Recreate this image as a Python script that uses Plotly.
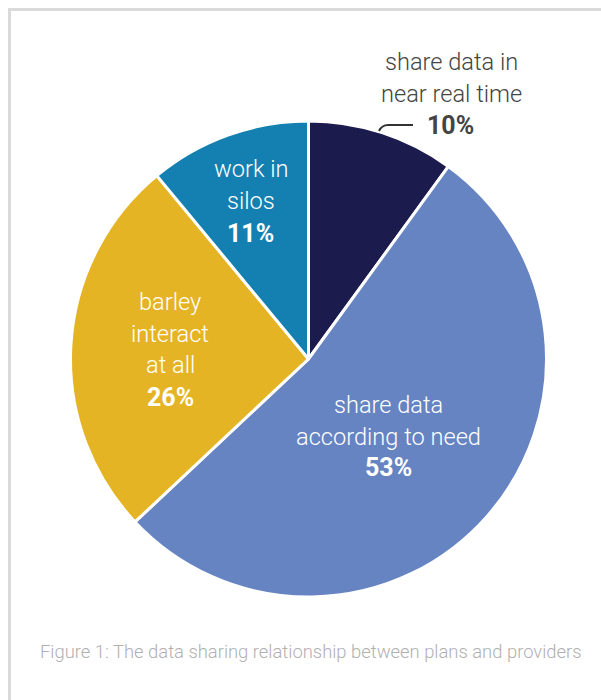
import plotly.graph_objects as go

# ---- data ----
categories = ["share data in near real time", "share data according to need",
              "barley interact at all", "work in silos"]
values = [10, 53, 26, 11]
label_lines = [["share data in", "near real time"],
               ["share data", "according to need"],
               ["barley", "interact", "at all"],
               ["work in", "silos"]]
pct_labels = ["10%", "53%", "26%", "11%"]
caption = "Figure 1: The data sharing relationship between plans and providers"

# ---- style ----
colors = ["#1c1b4d", "#6684c2", "#e4b424", "#1480b1"]
text_colors = ["#444444", "white", "white", "white"]
# pixel positions (x center, y of first line)
label_pos = [(451, 62), (388, 405), (170, 302), (251, 169)]
pct_pos = [(450, 126), (388, 467), (170, 397), (250, 233)]
LINE = 31.5
W, H = 601, 700
FONT = "Roboto, 'Liberation Sans', Arial, sans-serif"


def px(x, y):
    return x / W, 1 - y / H


fig = go.Figure(go.Pie(
    labels=categories, values=values, sort=False, direction="clockwise",
    rotation=0, marker=dict(colors=colors, line=dict(color="white", width=3)),
    textinfo="none", hoverinfo="label+percent", showlegend=False,
    domain=dict(x=[70.5 / W, 546.5 / W], y=[103 / H, 579 / H]),
))

ann = []
for i in range(len(values)):
    x0, y0 = label_pos[i]
    for j, line in enumerate(label_lines[i]):
        ax, ay = px(x0, y0 + j * LINE)
        ann.append(dict(x=ax, y=ay, xref="paper", yref="paper", text=line,
                        showarrow=False, xanchor="center", yanchor="middle",
                        font=dict(family=FONT, size=23.6, color=text_colors[i], weight=300)))
    ax, ay = px(*pct_pos[i])
    ann.append(dict(x=ax, y=ay, xref="paper", yref="paper", text=pct_labels[i],
                    showarrow=False, xanchor="center", yanchor="middle",
                    font=dict(family=FONT, size=25, color=text_colors[i], weight="bold")))

cx, cy = px(311, 651)
ann.append(dict(x=cx, y=cy, xref="paper", yref="paper", text=caption,
                showarrow=False, xanchor="center", yanchor="middle",
                font=dict(family=FONT, size=18.4, color="#b0b0b0", weight=300)))

# leader line for first slice
p1 = px(379, 131); p2 = px(382, 125); p3 = px(388, 125); p4 = px(413, 125)
path = f"M {p1[0]},{p1[1]} Q {p2[0]},{p2[1]} {p3[0]},{p3[1]} L {p4[0]},{p4[1]}"

fx0, fy0 = px(9.5, 9.5)
fig.update_layout(
    width=W, height=H, margin=dict(l=0, r=0, t=0, b=0),
    paper_bgcolor="white", plot_bgcolor="white",
    annotations=ann,
    shapes=[
        dict(type="rect", xref="paper", yref="paper", x0=fx0, y0=-0.05, x1=1.05, y1=fy0,
             line=dict(color="#dadada", width=3), layer="below"),
        dict(type="path", xref="paper", yref="paper", path=path,
             line=dict(color="#333333", width=2)),
    ],
)
fig.write_html("out.html", config={"displayModeBar": False},
               post_script="document.body.style.margin='0';document.body.style.overflow='hidden';")
